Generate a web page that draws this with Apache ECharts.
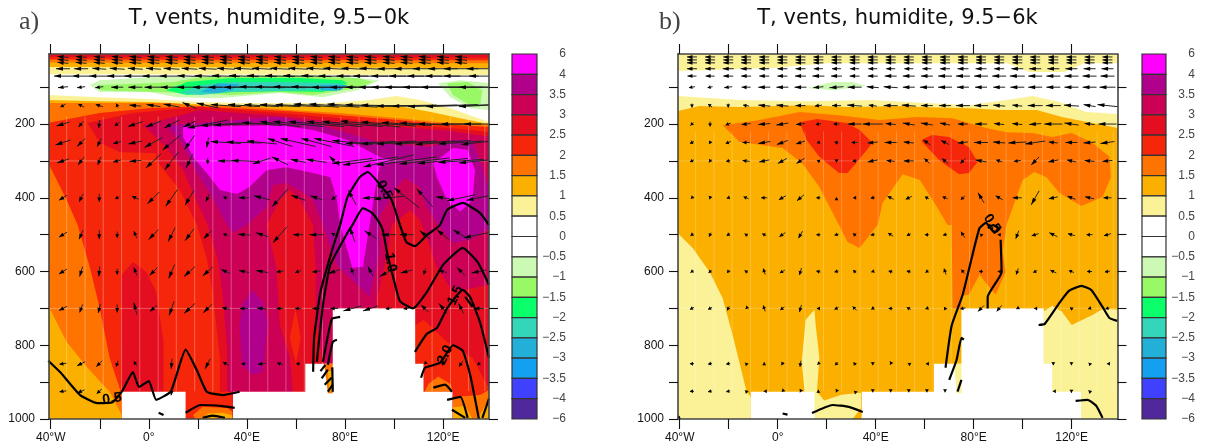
<!DOCTYPE html>
<html>
<head>
<meta charset="utf-8">
<style>html,body{margin:0;padding:0;background:#fff}#c{width:1206px;height:448px}</style>
<script src="https://cdn.jsdelivr.net/npm/echarts@6/dist/echarts.min.js"></script>
</head>
<body>
<div id="c"></div>
<script>
// colour scale
const cbLabels = ['6','4','3.5','3','2.5','2','1.5','1','0.5','0','−0.5','−1','−1.5','−2','−2.5','−3','−3.5','−4','−6'];
const levelEdges = [6,4,3.5,3,2.5,2,1.5,1,0.5,0,-0.5,-1,-1.5,-2,-2.5,-3,-3.5,-4,-6];
const binColors = ['#ff00ff','#b0008c','#cc0055','#e40e20','#f5260a','#ff7300','#fbb000','#fbf298','#ffffff','#ffffff','#ccf9b4','#99f866','#0aff6a','#33d6b8','#22b0d8','#14a0f0','#4040ff','#50289c'];

// axes
const lonTicks = [-40,-20,0,20,40,60,80,100,120];
const lonLabels = [-40,0,40,80,120];
const pTicks = [100,200,300,400,500,600,700,800,900,1000];
const pLabels = [200,400,600,800,1000];

// orography (lon, hPa)
const terrain1 = [[-11,926],[15,926],[15,1000],[-11,1000]];
const terrain2 = [[34.3,926],[63.8,926],[63.8,850],[75,850],[75,700],[108.6,700],[108.6,850],[112,850],[112,926],[123.8,926],[123.8,1000],[34.3,1000]];

// faint seams of the plotted cells
const seamLons = [-33.5,-26,-18.6,-11.1,-3.7,3.8,11.2,18.7,26.1,33.6,41,48.5,55.9,63.4,70.8,78.3,85.7,93.2,100.6,108.1,115.5,123,130.4,137];
const seamLevels = [300,700];

// panel a: filled regions (lon, hPa)
const aTop1 = [[-41,10],[139,10],[139,67],[-41,65]];
const aTop2 = [[-41,10],[139,10],[139,48],[-41,45]];
const aTop3 = [[-41,10],[139,10],[139,35],[-41,33]];
const aTop4 = [[-41,10],[139,10],[139,27],[-41,25]];
const aTop5 = [[-41,10],[139,10],[139,20],[-41,18]];
const aGe05 = [[-41,121],[-20,127],[0,132],[21,140],[37,143],[53,143],[74,143],[90,135],[101,124],[110.5,135],[123,157],[139,195],[139,1000],[-41,1000]];
const aGe10 = [[-41,135],[-20,138],[0,140],[21,146],[37,149],[57.5,151],[78,151],[90,154],[102,151],[115,167],[127,184],[139,200],[139,1000],[-41,1000]];
const aGe15 = [[-41,143],[-16,143],[8.5,143],[21,151],[37,151],[57.5,162],[78,170],[102,184],[119,195],[139,203],[139,1000],[-11,1000],[-11,989],[-16,926],[-25,861],[-33.5,791],[-40.4,700],[-41,695]];
const aGe20 = [[-41,197],[-20,170],[0,157],[21,152],[57.5,165],[78,176],[102,189],[119,200],[139,208],[139,1000],[-11,1000],[-11,934],[-16,834],[-20,700],[-24,590],[-29,474],[-33.5,406],[-41,306]];
const aGe25 = [[-25,197],[-6.5,170],[21,154],[53,170],[78,184],[94,195],[123,211],[139,222],[139,1000],[34,1000],[34,926],[29,926],[29,834],[26,655],[23.6,563],[19.6,474],[12.6,379],[3,298],[3,279],[-12,276],[-20,251]];
const aBlobRed = [[-6.5,574],[-11,609],[-11,834],[-11,926],[6,926],[6,791],[3,655],[-1,601]];
const aGe30 = [[-2.5,203],[21,162],[53,178],[78,195],[94,203],[123,219],[139,235],[139,636],[124,655],[117.5,590],[113,501],[110.5,460],[106.5,433],[99,474],[97.5,541],[93,677],[93,700],[75,700],[75,850],[71,850],[68.5,737],[68,700],[68,590],[67,474],[61.6,406],[57.5,379],[53.4,406],[48,474],[52,590],[53.4,745],[57.5,834],[58.7,926],[32,926],[32,818],[30,655],[28,563],[24,474],[18,387],[14,325],[7,262],[-1,211]];
const aSliver = [[59.8,700],[57.5,780],[60,848],[62,780]];
const aGe35 = [[7,203],[53,181],[67,197],[81,224],[94,251],[114.6,262],[124,243],[132,243],[136,317],[139,387],[139,482],[131,514],[124,522],[118.7,482],[113.4,425],[110.5,371],[104.4,346],[101,371],[94,452],[94,555],[90,669],[83,623],[76.7,582],[71,474],[67,406],[61.6,379],[56,360],[50.6,365],[48,425],[40,474],[34,495],[30,452],[26,398],[19.6,333],[12.6,243]];
const aBlobPurple = [[38,691],[42,650],[46.5,682],[48.5,737],[46.5,872],[42,880],[38,853],[37,745]];
const aGe40 = [[14,208],[53.4,203],[67,216],[81,243],[94,289],[99.5,298],[94,317],[93,352],[90,474],[87.3,587],[83,590],[78,474],[76.7,406],[74,344],[67,333],[56,317],[48,325],[41,371],[36,390],[29,379],[23.6,333],[18,289],[14,235]];
const aGe40b = [[116,306],[124,265],[130,270],[133,325],[132,406],[127,438],[121.6,406],[117.5,344]];
const aBrRedOr = [[108.5,747],[112,731],[121.6,791],[132,834],[139,921],[139,1000],[124,1000],[124,926],[112,926],[112,850],[108.5,850]];
const aBrOr1 = [[112.5,926],[114,905],[118,885],[123,905],[124,926]];
const aBrOr2 = [[124,1000],[124,940],[135,935],[139,920],[139,1000]];
const aBrAm1 = [[124,1000],[124,968],[129,965],[132,1000]];
const aBrAm2 = [[134,1000],[137,965],[139,950],[139,1000]];
const aGapOr = [[18,989],[22,967],[32,970],[34,980],[34,1000],[19,1000]];
const aGapAm = [[24,985],[30,983],[34,990],[34,1000],[22,1000]];
const aWedgeOr = [[71.5,850],[75,850],[75,930],[73,930]];
const aWedgeAm = [[73,870],[74.8,870],[74.8,925],[73.6,925]];
const aG1 = [[-24,94],[-20,81],[0,73],[53.4,67],[67,67],[85,75],[94,81],[85,108],[71,127],[53.4,116],[28,130],[11.4,127],[0,113],[-20,113]];
const aG2 = [[-20,94],[0,89],[10,86],[21,73],[53.4,70],[85,75],[91.4,86],[85,102],[67,121],[53.4,113],[34,121],[14,116],[-20,108]];
const aG3 = [[7,108],[15.5,86],[34,75],[61.6,75],[79,81],[81,89],[71,113],[53.4,111],[34,113],[15.5,121]];
const aG4 = [[12.6,116],[21,94],[34,86],[54.6,86],[79,89],[76.7,111],[67,108],[34,113],[21,121]];
const aG5 = [[21,113],[28,89],[37,92],[34,108],[28,116]];
const aG5b = [[70,94],[81,94],[78,108],[70,108]];
const aGr1 = [[118,89],[127,81],[139,89],[139,162],[131,157],[123,127]];
const aGr2 = [[121.6,89],[130,86],[136,108],[135,154],[131,149],[124,121]];

const aLayers = [[0.75,aTop1],[1.25,aTop2],[1.75,aTop3],[2.25,aTop4],[2.75,aTop5],
  [0.75,aGe05],[1.25,aGe10],[1.75,aGe15],[2.25,aGe20],[2.75,aGe25],[2.75,aBlobRed],[3.25,aGe30],[2.25,aSliver],
  [3.75,aGe35],[3.75,aBlobPurple],[5,aGe40],[5,aGe40b],[2.25,aBrRedOr],[1.75,aBrOr1],[1.75,aBrOr2],[1.25,aBrAm1],[1.25,aBrAm2],
  [1.75,aGapOr],[1.25,aGapAm],
  [-0.75,aG1],[-1.25,aG2],[-1.75,aG3],[-2.25,aG4],[-2.75,aG5],[-2.75,aG5b],[-0.75,aGr1],[-1.25,aGr2]];
const aAfterTerrain = [[1.75,aWedgeOr],[1.25,aWedgeAm]];

// panel b: filled regions (lon, hPa)
const bTop = [[-41,10],[139,10],[139,35],[125,35],[117,59],[102.8,59],[93.8,35],[20,35],[-2,48],[-41,56]];
const bGe05 = [[-41,124],[-15.5,135],[11.8,138],[38.7,135],[60.8,143],[78,149],[93.4,135],[104,124],[115,140],[126,167],[139,173],[139,1000],[-41,1000]];
const bGe10 = [[-41,165],[-32,151],[-15.5,154],[11.8,149],[28,154],[52.6,151],[58,154],[78,157],[91.8,162],[105.7,162],[116,181],[139,211],[139,1000],[-41,1000]];
const bLeftPale = [[-41,495],[-34.7,536],[-27.8,601],[-22.5,672],[-18.4,772],[-14.7,872],[-12.7,926],[-11,940],[-11,1000],[-41,1000]];
const bSliver = [[15,704],[11.4,731],[9.8,845],[11,929],[15,1000],[30.6,1000],[34,970],[34,929],[26,934],[19,950],[16,926],[17,834],[15.5,745]];
const bRightPale = [[108.5,709],[112,693],[116,709],[120,745],[128.5,718],[133,700],[139,704],[139,1000],[108.5,1000]];
const bGe15 = [[-22.5,203],[-7.4,189],[9,167],[25,176],[41.6,189],[56.7,181],[71.4,184],[85,211],[93.4,222],[104,224],[112,235],[120,224],[128.5,251],[135.4,289],[136,344],[132.6,398],[124,422],[115,387],[109.7,344],[104.8,330],[100,352],[96,425],[93.4,474],[91.8,547],[93,601],[89,663],[86.5,644],[82.4,609],[78,663],[75,666],[75,700],[71.4,700],[71,474],[69.3,474],[65,425],[58,352],[51,336],[42.8,414],[40.8,474],[33.4,536],[28.5,520],[25,474],[17,371],[10,306],[2,265],[-15.5,249]];
const bBlob1 = [[9,195],[16,186],[28,197],[33.4,216],[38.7,251],[32,306],[28.5,333],[25,333],[17,289],[11.8,243]];
const bBlob2 = [[58.7,243],[63,230],[70,235],[78,262],[81.6,303],[78,333],[74,336],[66,298],[59,249]];
const bGreen = [[11.8,102],[22.4,86],[30.6,86],[36,97],[22.4,108]];
const bWedge = [[72,850],[75,850],[75,930],[73,930]];

const bLayers = [[0.75,bTop],[0.75,bGe05],[1.25,bGe10],[0.75,bLeftPale],[0.75,bSliver],[0.75,bRightPale],[1.75,bGe15],[2.25,bBlob1],[2.25,bBlob2],[-0.75,bGreen]];
const bAfterTerrain = [[0.75,bWedge]];

// contour lines (lon, hPa)
const aLines = [
 [[-41,842],[-36,874],[-28,935],[-21,957],[-15,955],[-11,926],[-6.5,873],[-4,913],[0,897],[3,948],[9,925],[15,812],[19.6,868],[23.6,926],[30,935],[37,926]],
 [[15,983],[21,962],[30,965],[35,970]],
 [[22,997],[26,991],[31,997]],
 [[67,872],[67.4,779],[70,655],[75,536],[78,474],[81,398],[86,344],[89.3,330],[96,379],[99,406],[102.4,474],[105,520],[108.5,531],[113.4,501],[118.7,474],[121.6,433],[128,414],[135,441],[138.7,474]],
 [[68.5,845],[71,691],[74,582],[81,495],[83,474],[87.3,428],[91,441],[94,468],[95.5,490],[97,544],[100,625],[102.4,680],[107.7,700],[113.4,655],[120,582],[128,536],[134,574],[138.7,636]],
 [[71,845],[74.6,729],[78,723]],
 [[73,853],[75,791],[76.7,785]],
 [[70,870],[72,853]],[[70.5,890],[73,866]],[[71.7,907],[74.5,888]],[[73,926],[75,907]],[[75,926],[74.8,860]],
 [[108.5,818],[113.4,769],[117.5,753],[121.6,700],[128,650],[131,669],[135,737],[138.7,834]],
 [[129,669],[132,696]],
 [[111,888],[112.6,861],[118.7,848],[124,800],[128,815],[131,880],[134.6,1000]],
 [[116,915],[120.8,907],[123.6,926]],
 [[121.6,948],[127,940],[130,997]],
 [[123.6,975],[129,997]],
 [[138.7,945],[136,997]],
 [[4,983],[6,989]]
];
const aLineLabels = [[-15,945,'0.5',8],[96,379,'0.5',-62],[98.5,575,'1.0',-80],[125,665,'1.5',65],[120.8,826,'2.0',65]];

const bLines = [
 [[68.5,861],[71,747],[75.5,663],[79.5,555],[82.4,482],[85,468],[88.5,495],[90.6,484],[88,474],[85.7,482]],
 [[91,514],[91.4,601],[85.7,669],[85.7,700]],
 [[70,894],[73,840],[75,780],[76,785]],
 [[73.4,926],[75,894]],
 [[106.5,745],[109,742],[115,685],[119,652],[124,639],[128,650],[132.6,696],[135.4,726],[138.7,734]],
 [[121.6,951],[126.5,948],[130,964],[132.6,997]],
 [[14,984],[22.4,962],[29,967],[34.7,981]],
 [[2,985],[4,988]],
 [[-40.5,992],[-40,1000]]
];
const bLineLabels = [[87.5,470,'0.5',-55]];

// winds: columns and levels
const vecLons = [-35,-27.6,-20.2,-12.9,-5.5,1.9,9.3,16.6,24,31.4,38.8,46.1,53.5,60.9,68.3,75.6,83,90.4,97.8,105.1,112.5,119.9,127.3,134.6];
const vecLevels = [18,26,34,50,70,100,150,200,250,300,400,500,600,700,850,925];

const aU18 = [-11,-11,-11,-11,-12,-12,-12,-12,-12,-12,-12,-12,-12,-12,-12,-12,-12,-12,-12,-12,-12,-12,-12,0];
const aU50 = [-14,-14,-14,-15,-15,-15,-16,-16,-18,-18,-20,-20,-20,-20,-20,-22,-22,-22,-22,-24,-24,-30,-35,-25];
const aU70 = [-18,-18,-20,-20,-22,-22,-24,-24,-26,-28,-30,-30,-30,-30,-30,-32,-32,-35,-35,-35,-35,-35,-35,-20];
const aU100 = [-10,-8,-8,-12,-14,-18,-22,-25,-30,-35,-40,-45,-50,-50,-50,-45,-45,-50,-60,-70,-80,-80,-80,-40];
const aU150 = [-5,-6,-7,-2,-12,-14,-16,-14,-22,-30,-32,-35,-40,-45,-45,-50,-50,-50,-55,-60,-65,-70,-70,-40];
const aU200 = [-13,-5,-1,-5,-15,-15,-15,-12,-40,-50,-60,-40,-40,-50,-55,-55,-60,-60,-55,-50,-50,-50,-40,-30];
const aU250 = [-15,-8,-4,-8,-14,-18,-18,-10,-2,-30,-35,-30,-25,-35,-30,-40,-40,-50,-55,-60,-60,-55,-45,-35];
const aU300 = [-12,-6,-3,-8,-12,-15,-14,-7,0,-16,-25,-18,-16,-15,-20,-10,-40,-55,-50,-60,-50,-50,-45,-40];
const aU400 = [-8,-4,0,-4,-7,-12,-12,-9,-4,-5,-10,-16,-16,-14,-12,-6,-8,-16,-30,-25,-16,-14,-28,-25];
const aU500 = [-8,-4,0,0,-3,-10,-7,-9,-8,-5,-12,-12,-14,-10,-14,-6,-5,-12,-14,-14,-10,-12,-16,-30];
const aU600 = [-8,-3,-1,0,-3,-8,-6,-11,-10,-9,-10,-12,-7,-6,-8,-12,-3,-5,-18,-12,-2,-8,-8,-15];
const aU700 = [-8,-3,-2,0,-3,-7,-5,-11,-9,-8,-8,-10,-7,-6,-8,-8,-18,-15,-6,-6,-7,-8,-5,-10];
const aU850 = [-7,-8,-6,-2,-3,0,-1,0,-5,-6,-5,-8,-6,-4,0,0,0,0,0,0,-1,-3,-4,-3];
const aU925 = [-7,-7,-5,0,0,0,-1,0,0,0,0,0,0,0,0,0,0,0,0,0,0,0,0,0];
const aV18 = [1,1,1,1,1,1,1,1,1,1,1,1,1,1,1,1,1,1,1,1,1,1,1,0];
const aV50 = [0,0,1,1,1,1,1,1,1,1,1,1,1,1,1,1,1,1,0,0,0,0,0,0];
const aV70 = [0,0,0,0,0,0,0,1,1,1,1,1,1,1,1,0,0,0,0,0,0,0,0,0];
const aV100 = [-1,-1,-1,0,0,0,0,0,0,0,0,1,1,1,1,0,0,0,0,0,0,0,0,0];
const aV150 = [-3,3,2,4,1,2,3,6,5,2,2,2,2,2,3,3,3,2,1,-1,-1,-2,-2,-2];
const aV200 = [-4,-6,-8,-4,-5,-6,-8,-6,-8,-3,-2,3,5,5,5,5,5,6,4,3,2,0,0,0];
const aV250 = [-5,-8,-8,-2,-3,-10,-15,-14,-10,2,1,3,8,8,8,8,4,-2,-3,-3,-3,-4,-3,-4];
const aV300 = [-4,-8,-8,-2,-1,-14,-18,-14,-6,0,1,-6,8,3,3,10,-5,-8,-12,-8,-6,-5,-3,-4];
const aV400 = [-5,-8,-8,-2,3,-12,-17,-15,-8,2,0,4,-18,5,4,-4,15,-1,-3,20,18,2,-6,-5];
const aV500 = [-5,-9,-9,-6,7,-10,-14,-12,-8,2,1,4,-16,0,0,3,15,8,0,0,8,10,10,-6];
const aV600 = [-5,-10,-10,-6,8,-8,-14,-10,-9,4,2,2,-1,-2,-1,-4,7,10,-10,-3,-6,2,8,-3];
const aV700 = [-4,-8,-9,-8,12,-6,-14,-10,-9,2,0,1,0,0,0,0,-5,-5,-1,-1,7,10,10,0];
const aV850 = [-1,-4,-6,-6,5,0,-10,0,-10,3,0,-1,2,0,0,0,0,0,0,0,-1,3,-6,-3];
const aV925 = [-1,-3,-5,0,0,0,-8,0,0,0,0,0,0,0,0,0,0,0,0,0,0,0,0,0];
const aUrows = [aU18,aU18,aU18,aU50,aU70,aU100,aU150,aU200,aU250,aU300,aU400,aU500,aU600,aU700,aU850,aU925];
const aVrows = [aV18,aV18,aV18,aV50,aV70,aV100,aV150,aV200,aV250,aV300,aV400,aV500,aV600,aV700,aV850,aV925];

const bU18 = [-10,-10,-10,-10,-10,-10,-10,-10,-10,-10,-10,-10,-10,-10,-10,-10,-10,-10,-10,-10,-10,-10,-10,-10];
const bU50 = [-10,-10,-11,-11,-10,-10,-10,-9,-9,-9,-9,-9,-9,-9,-10,-11,-11,-10,-12,-12,-12,-12,-12,-12];
const bU70 = [-9,-9,-10,-10,-10,-10,-11,-12,-11,-10,-10,-12,-12,-12,-14,-14,-14,-14,-15,-14,-14,-14,-14,-14];
const bU100 = [-6,-5,-8,-9,-12,-12,-12,-10,-14,-14,-12,-14,-12,-14,-14,-12,-12,-12,-14,-14,-14,-14,-14,-16];
const bU150 = [0,-4,0,-6,-12,-12,-10,-7,-9,-15,-8,-14,-14,-12,-12,-14,-14,-12,-10,-15,-15,-15,-12,-20];
const bU200 = [-3,0,-5,-9,-12,-12,-9,-5,-6,-14,-20,-10,-12,-12,-10,-10,-12,-10,-10,-12,-18,-14,-10,-18];
const bU250 = [-4,-2,-5,-7,-12,-11,-9,-3,-4,-6,-10,-12,-10,-7,-8,-10,-14,-12,-18,-20,-9,-12,-12,-14];
const bU300 = [-4,-2,-4,-7,-10,-9,-8,-3,0,-4,-10,-8,-10,-5,-6,-5,-11,-6,-7,-8,-10,-9,-10,-10];
const bU400 = [-2,-1,-3,-5,-6,-7,-7,-4,0,-3,-4,-6,-6,-4,-5,-4,-6,-7,-9,-8,-9,-8,-9,-8];
const bU500 = [-3,-2,-3,-3,-4,-6,-4,-4,-4,-3,-4,-5,-4,-4,-4,-4,-2,-3,-3,-7,-8,-7,-6,-7];
const bU600 = [-3,-3,-2,-3,-2,-5,-2,-4,-4,-3,-3,-4,-4,-3,-2,-3,-4,-3,-2,-4,-6,-5,-5,-5];
const bU700 = [-4,-4,-2,-1,-2,-4,-2,-3,-4,-4,-3,-4,-4,-3,-2,-5,-6,-5,-2,-2,0,-3,-3,-4];
const bU850 = [-4,-4,-4,-2,0,-2,-1,-2,-3,-2,0,-1,-2,-2,0,0,0,0,0,0,0,0,-2,-1];
const bU925 = [-4,-4,-4,-2,-1,-1,-1,0,-1,-1,0,0,0,0,0,0,0,0,0,0,-1,0,-2,0];
const bV0 = [0,0,0,0,0,0,0,0,0,0,0,0,0,0,0,0,0,0,0,0,0,0,0,0];
const bV100 = [-1,-1,-1,0,0,0,0,-1,-1,0,1,1,0,0,0,0,0,0,0,0,0,0,0,0];
const bV150 = [-4,3,-4,1,1,1,0,-1,0,1,1,0,1,0,0,0,0,1,1,0,0,1,2,2];
const bV200 = [-3,-5,-2,-1,-1,-2,-1,-1,0,0,0,1,2,2,2,0,0,1,1,-1,0,2,1,0];
const bV250 = [-2,-3,-2,0,-2,-4,-3,-1,1,0,-1,0,1,5,4,-1,0,1,-1,-3,1,0,-1,-2];
const bV300 = [-2,-3,-1,1,-2,-5,-5,1,-3,-1,-2,1,0,5,5,-5,2,2,-1,-8,-2,2,1,-1];
const bV400 = [-2,-3,-1,2,0,-4,-6,0,1,0,-1,3,-3,2,2,-4,10,4,0,-14,-2,3,2,0];
const bV500 = [-2,-4,-2,2,2,-4,-7,0,-1,3,-1,3,-2,0,-1,6,2,0,-8,-2,4,2,0,-2];
const bV600 = [-2,-3,-3,2,6,-3,-7,1,-1,3,-1,1,1,-2,6,4,0,0,-6,-2,3,2,0,-1];
const bV700 = [-2,-2,-4,-1,6,-3,-7,0,-2,4,-2,0,2,-1,3,-1,-6,-6,-1,0,0,2,-1,-1];
const bV850 = [0,-1,-1,2,3,-3,-6,-2,-3,3,-3,-2,1,0,0,0,0,0,0,0,-3,-3,2,0];
const bV925 = [0,-1,-1,2,0,-1,-2,3,-2,1,-2,-2,-2,-2,-2,0,0,0,0,0,0,-3,2,0];
const bUrows = [bU18,bU18,bU18,bU50,bU70,bU100,bU150,bU200,bU250,bU300,bU400,bU500,bU600,bU700,bU850,bU925];
const bVrows = [bV0,bV0,bV0,bV0,bV0,bV100,bV150,bV200,bV250,bV300,bV400,bV500,bV600,bV700,bV850,bV925];

// ---------------------------------------------------------------
const LON_MIN=-40.7, LON_MAX=138.7, P_MIN=10, P_MAX=1000;
const FONT='"Liberation Sans",Arial,sans-serif';

function colorFor(v){
  for(let i=0;i<binColors.length;i++){ if(v>=levelEdges[i+1]) return binColors[i]; }
  return binColors[binColors.length-1];
}
function fillSeries(layers,ax,z){
  return {type:'custom',xAxisIndex:ax,yAxisIndex:ax,z:z,silent:true,clip:true,
    data:layers.map((l,i)=>[i]),encode:{x:0},
    renderItem(p,api){
      const l=layers[api.value(0)];
      return {type:'polygon',shape:{points:l[1].map(q=>api.coord(q))},style:{fill:colorFor(l[0]),stroke:null}};
    }};
}
function seamSeries(ax,alpha,pTop){
  const d=seamLons.map(l=>[l,pTop,l,925]).concat(seamLevels.map(p=>[LON_MIN,p,LON_MAX,p]));
  return {type:'custom',xAxisIndex:ax,yAxisIndex:ax,z:2,silent:true,clip:true,data:d,encode:{x:0,y:1},
    renderItem(p,api){
      const a=api.coord([api.value(0),api.value(1)]),b=api.coord([api.value(2),api.value(3)]);
      return {type:'line',shape:{x1:a[0],y1:a[1],x2:b[0],y2:b[1]},style:{stroke:'rgba(255,255,255,'+alpha+')',lineWidth:1}};
    }};
}
function terrainSeries(ax){
  const polys=[terrain1,terrain2];
  return {type:'custom',xAxisIndex:ax,yAxisIndex:ax,z:3,silent:true,clip:true,
    data:polys.map((l,i)=>[i]),encode:{x:0},
    renderItem(p,api){
      return {type:'polygon',shape:{points:polys[api.value(0)].map(q=>api.coord(q))},style:{fill:'#fff'}};
    }};
}
function vectorSeries(Urows,Vrows,ax){
  const d=[];
  vecLevels.forEach((lev,r)=>vecLons.forEach((lon,c)=>{
    const u=Urows[r][c]||0,v=Vrows[r][c]||0;
    if(u||v) d.push([lon,lev,u,v]);
  }));
  return {type:'custom',xAxisIndex:ax,yAxisIndex:ax,z:6,silent:true,clip:true,data:d,encode:{x:0,y:1},
    renderItem(p,api){
      const c=api.coord([api.value(0),api.value(1)]),u=api.value(2),v=api.value(3);
      const len=Math.sqrt(u*u+v*v)||1, ux=u/len, uy=-v/len;
      const hx=c[0]+u/2, hy=c[1]-v/2, tx=c[0]-u/2, ty=c[1]+v/2;
      const hl=Math.min(7,Math.max(3,len*0.55)), hw=2;
      const bx=hx-ux*hl, by=hy-uy*hl;
      return {type:'group',children:[
        {type:'line',shape:{x1:tx,y1:ty,x2:hx,y2:hy},style:{stroke:'#222',lineWidth:1}},
        {type:'polygon',shape:{points:[[hx,hy],[bx-uy*hw,by+ux*hw],[bx+uy*hw,by-ux*hw]]},style:{fill:'#000'}}
      ]};
    }};
}
function lineSeries(lines,ax){
  return lines.map(l=>({type:'line',xAxisIndex:ax,yAxisIndex:ax,z:7,silent:true,data:l,
    showSymbol:false,symbol:'none',smooth:0.15,lineStyle:{color:'#000',width:2.2},clip:true,animation:false}));
}
function labelSeries(labels,ax){
  return {type:'custom',xAxisIndex:ax,yAxisIndex:ax,z:8,silent:true,clip:false,
    data:labels.map(l=>[l[0],l[1]]),encode:{x:0,y:1},
    renderItem(p,api){
      const l=labels[p.dataIndex],c=api.coord([l[0],l[1]]);
      return {type:'text',x:c[0],y:c[1],rotation:l[3]*Math.PI/180,
        style:{text:l[2],align:'center',verticalAlign:'middle',font:'bold 14px '+FONT,fill:'#000'}};
    }};
}
function cbSeries(ax){
  return {type:'custom',xAxisIndex:ax,yAxisIndex:ax,z:5,silent:true,clip:false,
    data:binColors.map((c,i)=>[0,i]),encode:{y:1},
    renderItem(p,api){
      const i=api.value(1),a=api.coord([0,i]),b=api.coord([1,i+1]);
      return {type:'rect',shape:{x:a[0],y:a[1],width:b[0]-a[0],height:b[1]-a[1]},
        style:{fill:binColors[i],stroke:'#333',lineWidth:1.2}};
    }};
}
const tickStyle={color:'#111',width:1.1};
const lineS={show:true,onZero:false,lineStyle:{color:'#444',width:1.6}};
function lonAxis(grid,pos,labels){
  return {type:'value',gridIndex:grid,position:pos,min:LON_MIN,max:LON_MAX,z:9,splitLine:{show:false},
    axisLine:lineS,
    axisTick:{show:true,length:10,inside:false,customValues:lonTicks,lineStyle:tickStyle},
    axisLabel:labels?{show:true,customValues:lonLabels,margin:13,fontFamily:FONT,fontSize:12,color:'#111',
      formatter:v=>v<0?(-v)+'°W':(v===0?'0°':v+'°E')}:{show:false}};
}
function pAxis(grid,pos,labels){
  return {type:'value',gridIndex:grid,position:pos,inverse:true,min:P_MIN,max:P_MAX,z:9,splitLine:{show:false},
    axisLine:lineS,
    axisTick:{show:true,length:9,inside:false,customValues:pTicks,lineStyle:tickStyle},
    axisLabel:labels?{show:true,customValues:pLabels,margin:14,fontFamily:FONT,fontSize:12,color:'#111',formatter:v=>String(v)}:{show:false}};
}
function cbX(grid){return {type:'value',gridIndex:grid,min:0,max:1,show:false};}
function cbY(grid){
  return {type:'value',gridIndex:grid,position:'right',inverse:true,min:0,max:18,splitLine:{show:false},
    axisLine:{show:false},axisTick:{show:false},
    axisLabel:{show:true,customValues:cbLabels.map((s,i)=>i),align:'right',margin:29,fontFamily:FONT,fontSize:12,color:'#444',
      hideOverlap:false,formatter:v=>cbLabels[v]}};
}
const titleStyle={fontFamily:'"DejaVu Sans"',fontSize:21,fontWeight:'normal',color:'#111'};
const tagStyle={fontFamily:'"Liberation Serif"',fontSize:26,fontWeight:'normal',color:'#444'};

const option={
  animation:false,backgroundColor:'#fff',
  title:[
    {text:'T, vents, humidite, 9.5−0k',left:269,top:8,textAlign:'center',padding:0,textStyle:titleStyle},
    {text:'T, vents, humidite, 9.5−6k',left:897.5,top:8,textAlign:'center',padding:0,textStyle:titleStyle},
    {text:'a)',left:19,top:9,padding:0,textStyle:tagStyle},
    {text:'b)',left:659,top:9,padding:0,textStyle:tagStyle}
  ],
  grid:[
    {left:49,top:54,width:440,height:365},
    {left:678,top:54,width:439.5,height:365},
    {left:512,top:54,width:25,height:365},
    {left:1142,top:54,width:24,height:365}
  ],
  // indices: 0 a, 1 b, 2 cb a, 3 cb b, 4 a (top/right), 5 b (top/right)
  xAxis:[lonAxis(0,'bottom',true),lonAxis(1,'bottom',true),cbX(2),cbX(3),lonAxis(0,'top',false),lonAxis(1,'top',false)],
  yAxis:[pAxis(0,'left',true),pAxis(1,'left',true),cbY(2),cbY(3),pAxis(0,'right',false),pAxis(1,'right',false)],
  series:[
    fillSeries(aLayers,0,1),fillSeries(bLayers,1,1),
    seamSeries(0,0.3,180),seamSeries(1,0.22,220),
    terrainSeries(0),terrainSeries(1),
    fillSeries(aAfterTerrain,0,4),fillSeries(bAfterTerrain,1,4),
    vectorSeries(aUrows,aVrows,0),vectorSeries(bUrows,bVrows,1),
    ...lineSeries(aLines,0),...lineSeries(bLines,1),
    labelSeries(aLineLabels,0),labelSeries(bLineLabels,1),
    cbSeries(2),cbSeries(3)
  ]
};
echarts.init(document.getElementById('c'),null,{renderer:'canvas'}).setOption(option);
</script>
</body>
</html>
